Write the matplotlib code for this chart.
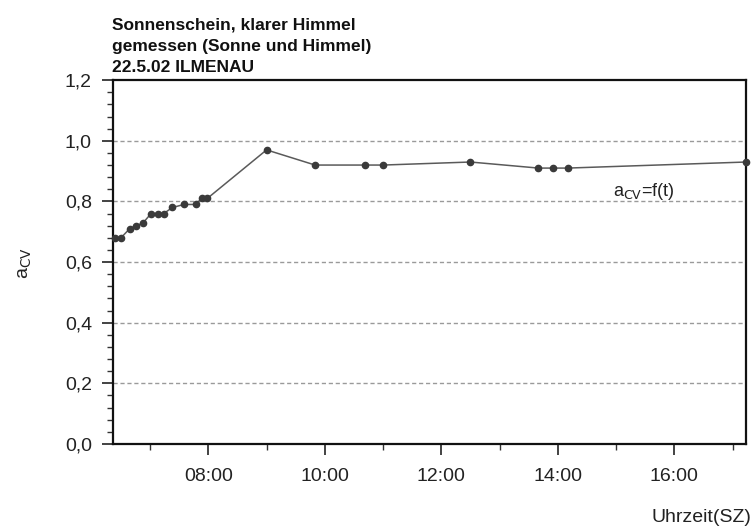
import matplotlib
matplotlib.use("Agg")
import matplotlib.pyplot as plt
from matplotlib.ticker import MultipleLocator, FixedLocator, FuncFormatter

plt.rcParams["font.family"] = ["Liberation Sans", "DejaVu Sans"]

# Measurement times (summer time) and coefficient a_CV
times = ["06:24", "06:30", "06:39", "06:46", "06:53", "07:01", "07:08", "07:14",
         "07:23", "07:35", "07:47", "07:53", "07:59", "09:00", "09:50", "10:41",
         "11:00", "12:30", "13:40", "13:55", "14:10", "17:14"]
a_cv = [0.68, 0.68, 0.71, 0.72, 0.73, 0.76, 0.76, 0.76,
        0.78, 0.79, 0.79, 0.81, 0.81, 0.97, 0.92, 0.92,
        0.92, 0.93, 0.91, 0.91, 0.91, 0.93]

x_tick_hours = [8, 10, 12, 14, 16]
x_tick_labels = ["08:00", "10:00", "12:00", "14:00", "16:00"]
y_ticks = [0.0, 0.2, 0.4, 0.6, 0.8, 1.0, 1.2]
title_lines = ["Sonnenschein, klarer Himmel",
               "gemessen (Sonne und Himmel)",
               "22.5.02 ILMENAU"]


def to_hours(s):
    h, m = s.split(":")
    return int(h) + int(m) / 60.0


hours = [to_hours(t) for t in times]

fig = plt.figure(figsize=(7.52, 5.31), dpi=100)
ax = fig.add_axes([0.150, 0.164, 0.842, 0.685])

ax.plot(hours, a_cv, color="#5a5a5a", lw=1.1, zorder=3, clip_on=False)
ax.plot(hours, a_cv, "o", color="#3a3a3a", ms=4.5, zorder=4, clip_on=False)

ax.set_xlim(6.36, 17.23)
ax.set_ylim(0.0, 1.2)

ax.xaxis.set_major_locator(FixedLocator(x_tick_hours))
ax.set_xticklabels(x_tick_labels)
ax.xaxis.set_minor_locator(MultipleLocator(1.0))
ax.yaxis.set_major_locator(FixedLocator(y_ticks))
ax.yaxis.set_major_formatter(FuncFormatter(lambda v, p: f"{v:.1f}".replace(".", ",")))
ax.yaxis.set_minor_locator(MultipleLocator(0.04))

ax.tick_params(axis="both", which="major", direction="out", length=8, width=1.2,
               labelsize=14, color="#222222", labelcolor="#222222")
ax.tick_params(axis="both", which="minor", direction="out", length=4.5, width=1.0,
               color="#333333")
ax.tick_params(axis="x", which="major", pad=9)
ax.tick_params(axis="y", which="major", pad=7)

for s in ax.spines.values():
    s.set_linewidth(1.6)
    s.set_color("#111111")

for yv in y_ticks[1:-1]:
    ax.axhline(yv, color="#9a9a9a", lw=1.0, ls=(0, (3, 2)), zorder=1)

ax.text(15.48, 0.833, "a$_{\\mathrm{CV}}$=f(t)", fontsize=13, color="#222222",
        ha="center", va="center")

fig.text(0.022, 0.505, "a$_{\\mathrm{CV}}$", rotation=90, fontsize=14,
         color="#222222", ha="left", va="center")
fig.text(0.999, 0.026, "Uhrzeit(SZ)", fontsize=14, color="#222222",
         ha="right", va="center")

fig.text(0.149, 0.858, "\n".join(title_lines), fontsize=12.5, fontweight="bold",
         color="#111111", ha="left", va="bottom", linespacing=1.55)

fig.savefig("out.png", dpi=100)
